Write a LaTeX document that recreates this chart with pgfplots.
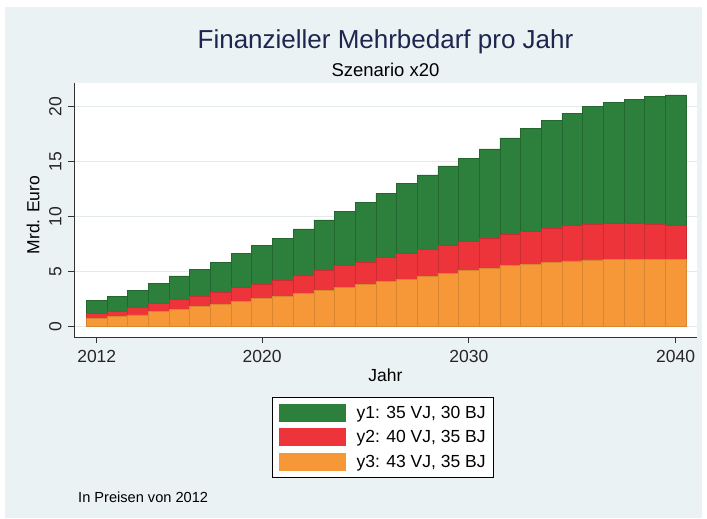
\documentclass[border=0pt]{standalone}
\usepackage{fontspec}
\setmainfont{Liberation Sans}
\usepackage{pgfplots}
\usepackage{pgfplotstable}
\pgfplotsset{compat=1.18}

\definecolor{stgreen}{RGB}{44,128,60}
\definecolor{stred}{RGB}{236,52,58}
\definecolor{storange}{RGB}{246,152,56}
\definecolor{bgblue}{RGB}{234,242,244}
\definecolor{gridc}{RGB}{226,234,238}
\definecolor{titleblue}{RGB}{28,38,78}

% cumulative heights (Mrd. Euro)
\pgfplotstableread{
year  y1     y2    y3
2012  2.36   1.18  0.76
2013  2.76   1.42  0.91
2014  3.33   1.73  1.06
2015  3.94   2.09  1.36
2016  4.61   2.45  1.58
2017  5.24   2.76  1.82
2018  5.82   3.15  2.03
2019  6.67   3.58  2.30
2020  7.36   3.88  2.55
2021  8.03   4.24  2.73
2022  8.88   4.70  3.03
2023  9.70   5.15  3.33
2024  10.45  5.55  3.58
2025  11.30  5.88  3.85
2026  12.12  6.27  4.09
2027  13.03  6.67  4.33
2028  13.79  7.03  4.58
2029  14.61  7.42  4.85
2030  15.33  7.73  5.09
2031  16.15  8.06  5.30
2032  17.15  8.42  5.55
2033  18.00  8.64  5.64
2034  18.76  8.97  5.82
2035  19.42  9.18  5.97
2036  20.00  9.33  6.06
2037  20.39  9.36  6.09
2038  20.67  9.36  6.12
2039  20.91  9.33  6.15
2040  21.06  9.24  6.12
}\mehrbedarf

\pgfplotsset{
  swatch/.style={legend image code/.code={%
    \fill[##1, draw=none] (0pt,-9pt) rectangle (67pt,9pt);}},
}

\begin{document}
\begin{tikzpicture}
  \useasboundingbox (0pt,0pt) rectangle (707pt,519pt);
  \fill[white] (0pt,0pt) rectangle (707pt,519pt);
  \fill[bgblue] (5pt,1pt) rectangle (702pt,512pt);

  \begin{axis}[
    at={(74pt,182pt)}, anchor=south west,
    scale only axis,
    width=623pt, height=254pt,
    xmin=2010.9, xmax=2041.03,
    ymin=-0.94, ymax=22.15,
    axis background/.style={fill=white},
    axis lines*=left,
    axis line style={black!80, line width=0.9pt},
    tick align=outside,
    major tick length=6pt,
    tick style={black!80, line width=0.9pt},
    xtick={2012,2020,2030,2040},
    ytick={0,5,10,15,20},
    /pgf/number format/1000 sep={},
    /pgf/number format/assume math mode=true,
    ticklabel style={font=\fontsize{17.5}{20}\selectfont, text=black!85},
    yticklabel style={rotate=90, anchor=south},
    xticklabel shift=4pt,
    yticklabel shift=3pt,
    ymajorgrids,
    major grid style={gridc, line width=1pt},
    ybar, bar width=1, bar shift=0pt,
    legend cell align=left,
    legend style={
      at={(axis description cs:0.3178,-0.236)}, anchor=north west,
      draw=black, line width=1.1pt, fill=white,
      font=\fontsize{17.5}{20}\selectfont,
      inner xsep=6pt, inner ysep=6.5pt,
      row sep=6.5pt,
      /tikz/every odd column/.append style={column sep=9pt},
    },
  ]
    \addplot[fill=stgreen, draw=stgreen!80!black, line width=0.7pt, swatch]
      table[x=year, y=y1] {\mehrbedarf};
    \addlegendentry{y1: 35 VJ, 30 BJ}
    \addplot[fill=stred, draw=stred!85!black, line width=0.7pt, swatch]
      table[x=year, y=y2] {\mehrbedarf};
    \addlegendentry{y2: 40 VJ, 35 BJ}
    \addplot[fill=storange, draw=storange!88!black, line width=0.7pt, swatch]
      table[x=year, y=y3] {\mehrbedarf};
    \addlegendentry{y3: 43 VJ, 35 BJ}
  \end{axis}

  \node[font=\fontsize{26}{30}\selectfont, text=titleblue] at (385.5pt,477pt)
    {Finanzieller Mehrbedarf pro Jahr};
  \node[font=\fontsize{18.5}{22}\selectfont] at (385.5pt,449pt) {Szenario x20};
  \node[font=\fontsize{17.5}{20}\selectfont] at (385.5pt,144pt) {Jahr};
  \node[font=\fontsize{17.5}{20}\selectfont, rotate=90] at (33pt,304pt) {Mrd. Euro};
  \node[font=\fontsize{14.6}{17}\selectfont, anchor=west, inner sep=0pt]
    at (78pt,22pt) {In Preisen von 2012};
\end{tikzpicture}
\end{document}
